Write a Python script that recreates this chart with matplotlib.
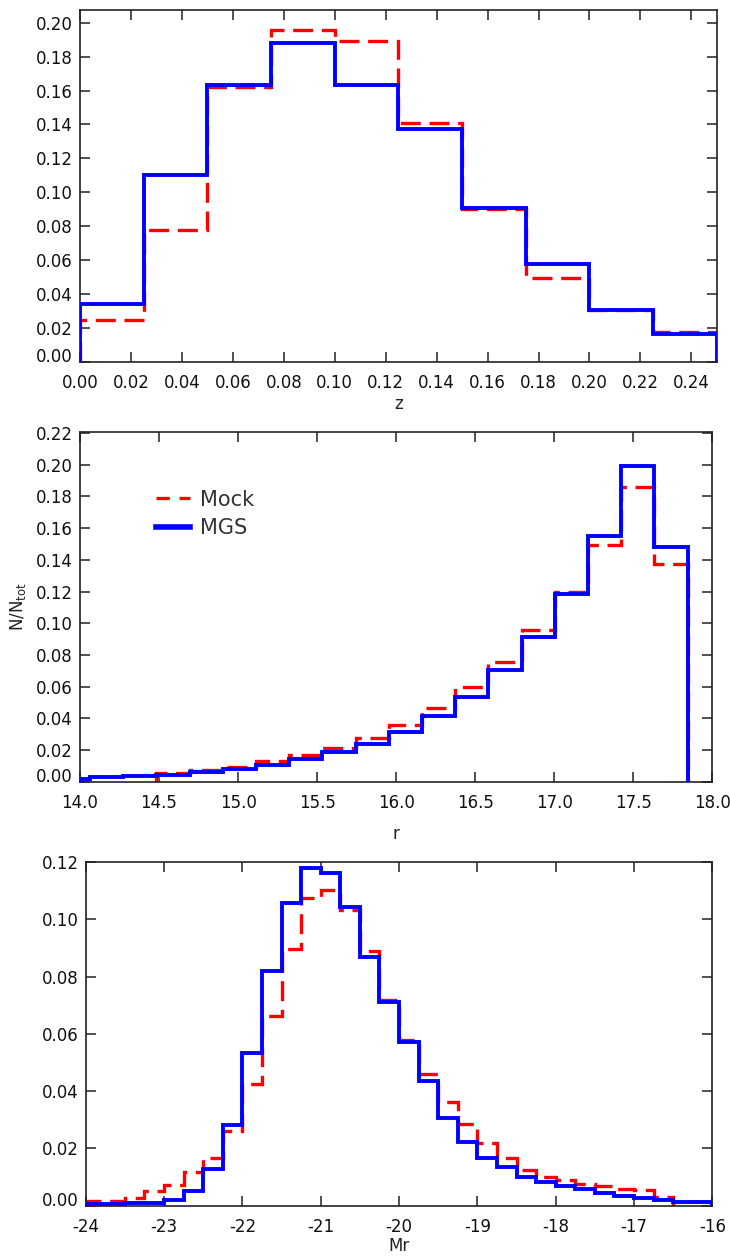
import numpy as np
import matplotlib
matplotlib.use("Agg")
import matplotlib.pyplot as plt
from matplotlib.transforms import ScaledTranslation
from matplotlib.lines import Line2D

plt.rcParams['font.family'] = ['DejaVu Sans']
plt.rcParams['axes.unicode_minus'] = False

# ---------------- data ----------------
# Panel 1: redshift z
z_edges = [0.0, 0.025, 0.05, 0.075, 0.10, 0.125, 0.15, 0.175, 0.20, 0.225, 0.25]
z_mgs = [0.0339, 0.1104, 0.1632, 0.1882, 0.1632, 0.1376, 0.0906, 0.0579, 0.0304, 0.0163]
z_mock = [0.0249, 0.0780, 0.1618, 0.1955, 0.1890, 0.1406, 0.0900, 0.0494, 0.0304, 0.0176]

# Panel 2: apparent magnitude r
r_edges = [13.853, 14.063, 14.273, 14.483, 14.693, 14.903, 15.113, 15.323, 15.533,
           15.743, 15.953, 16.163, 16.373, 16.583, 16.793, 17.003, 17.213, 17.423,
           17.633, 17.843]
r_mgs = [0.0015, 0.0028, 0.0036, 0.0044, 0.0063, 0.0080, 0.0105, 0.0141, 0.0185,
         0.0237, 0.0315, 0.0414, 0.0535, 0.0703, 0.0913, 0.1186, 0.1549, 0.1994, 0.1480]
r_mock_edges = r_edges[3:]
r_mock = [0.0057, 0.0074, 0.0094, 0.0130, 0.0166, 0.0216, 0.0279, 0.0361, 0.0468,
          0.0598, 0.0758, 0.0959, 0.1198, 0.1496, 0.1857, 0.1375]

# Panel 3: absolute magnitude Mr
mr_edges = [-24.0, -23.75, -23.5, -23.25, -23.0, -22.75, -22.5, -22.25, -22.0,
            -21.75, -21.5, -21.25, -21.0, -20.75, -20.5, -20.25, -20.0, -19.75,
            -19.5, -19.25, -19.0, -18.75, -18.5, -18.25, -18.0, -17.75, -17.5,
            -17.25, -17.0, -16.75, -16.5, -16.25, -16.0]
mr_mgs = [0.0005, 0.0006, 0.0008, 0.0010, 0.0020, 0.0053, 0.0127, 0.0281, 0.0533,
          0.0821, 0.1056, 0.1178, 0.1161, 0.1042, 0.0870, 0.0711, 0.0572, 0.0435,
          0.0308, 0.0223, 0.0168, 0.0136, 0.0101, 0.0084, 0.0070, 0.0057, 0.0043,
          0.0034, 0.0026, 0.0020, 0.0014, 0.0014]
mr_mock_edges = mr_edges[:31]
mr_mock = [0.0016, 0.0017, 0.0028, 0.0053, 0.0072, 0.0119, 0.0168, 0.0262, 0.0424,
           0.0662, 0.0897, 0.1073, 0.1102, 0.1033, 0.0891, 0.0717, 0.0577, 0.0461,
           0.0363, 0.0285, 0.0220, 0.0168, 0.0124, 0.0102, 0.0090, 0.0076, 0.0068,
           0.0058, 0.0055, 0.0029]

z_xticks = [0.00, 0.02, 0.04, 0.06, 0.08, 0.10, 0.12, 0.14, 0.16, 0.18, 0.20, 0.22, 0.24]
z_yticks = [0.00, 0.02, 0.04, 0.06, 0.08, 0.10, 0.12, 0.14, 0.16, 0.18, 0.20]
r_xticks = [14.0, 14.5, 15.0, 15.5, 16.0, 16.5, 17.0, 17.5, 18.0]
r_yticks = [0.00, 0.02, 0.04, 0.06, 0.08, 0.10, 0.12, 0.14, 0.16, 0.18, 0.20, 0.22]
mr_xticks = [-24, -23, -22, -21, -20, -19, -18, -17, -16]
mr_yticks = [0.00, 0.02, 0.04, 0.06, 0.08, 0.10, 0.12]

# ---------------- figure ----------------
fig = plt.figure(figsize=(7.3, 12.56), dpi=100)
ax1 = fig.add_axes([0.1096, 0.7118, 0.8724, 0.2803])
ax2 = fig.add_axes([0.1096, 0.3776, 0.8662, 0.2782])
ax3 = fig.add_axes([0.1174, 0.0400, 0.8584, 0.2737])

RED = '#ff0000'
BLUE = '#0000ff'
DASH = (6, 2.6)


def draw(ax, e_mgs, v_mgs, e_mock, v_mock):
    ax.stairs(v_mock, e_mock, baseline=0, color=RED, lw=2.4,
              linestyle=(0, DASH), label='Mock', zorder=2)
    ax.stairs(v_mgs, e_mgs, baseline=0, color=BLUE, lw=2.8,
              label='MGS', zorder=3)


draw(ax1, z_edges, z_mgs, z_edges, z_mock)
draw(ax2, r_edges, r_mgs, r_mock_edges, r_mock)
draw(ax3, mr_edges, mr_mgs, mr_mock_edges, mr_mock)

ax1.set_xlim(0, 0.25)
ax1.set_ylim(0, 0.2075)
ax2.set_xlim(14.0, 18.0)
ax2.set_ylim(0, 0.2205)
ax3.set_xlim(-24, -16)
ax3.set_ylim(0, 0.12)

configs = [
    (ax1, z_xticks, z_yticks, ['%.2f' % t for t in z_xticks], 'z', 2),
    (ax2, r_xticks, r_yticks, ['%.1f' % t for t in r_xticks], 'r', 10),
    (ax3, mr_xticks, mr_yticks, ['%d' % t for t in mr_xticks], 'Mr', 1),
]
for ax, xt, yt, xl, lab, lp in configs:
    ax.set_xticks(xt)
    ax.set_xticklabels(xl)
    ax.set_yticks(yt)
    ax.set_yticklabels(['%.2f' % t for t in yt])
    ax.tick_params(axis='both', which='major', direction='in', length=7, width=1.1,
                   top=True, right=True, labelsize=12, colors='#222222',
                   labelcolor='#111111')
    ax.tick_params(axis='x', pad=8.5)
    ax.tick_params(axis='y', pad=5)
    for s in ax.spines.values():
        s.set_linewidth(1.2)
        s.set_color('#222222')
    ax.set_xlabel(lab, fontsize=12, labelpad=lp, color='#222222')
    # lift the 0.00 label slightly, as in the reference
    lbl = ax.get_yticklabels()[0]
    lbl.set_transform(lbl.get_transform() +
                      ScaledTranslation(0, 5.0 / 72, fig.dpi_scale_trans))

ax2.set_ylabel(r'N/N$_{\mathrm{tot}}$', fontsize=12, labelpad=6, color='#222222')

handles = [Line2D([], [], color=RED, lw=2.4, linestyle=(0, (4.0, 2.9))),
           Line2D([], [], color=BLUE, lw=4.0)]
leg = ax2.legend(handles, ['Mock', 'MGS'], loc='upper left',
                 bbox_to_anchor=(0.09, 0.89), frameon=False, fontsize=15,
                 handlelength=1.65, handletextpad=0.5, labelspacing=0.42)
for t in leg.get_texts():
    t.set_color('#333333')

fig.savefig('out.png', dpi=100)
